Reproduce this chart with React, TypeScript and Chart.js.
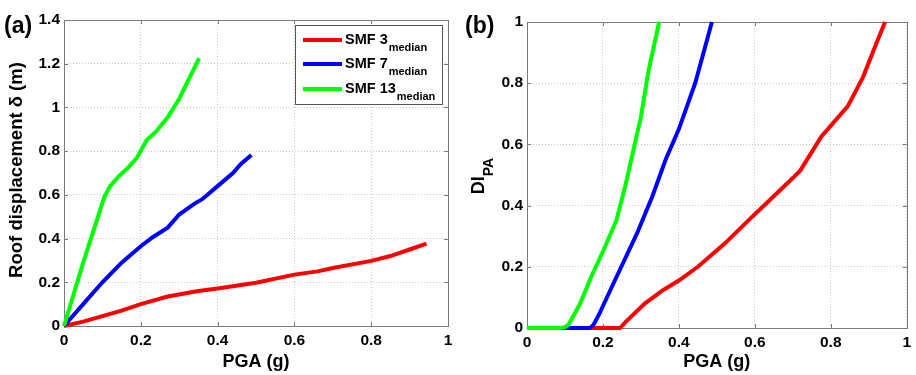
import React, { useEffect, useRef } from 'react';
import { Chart, registerables } from 'chart.js';
Chart.register(...registerables);

const FONT = '"Liberation Sans", Arial, Helvetica, sans-serif';

// ---- tick values ----
const xTicks = [0, 0.2, 0.4, 0.6, 0.8, 1];
const yTicksA = [0, 0.2, 0.4, 0.6, 0.8, 1, 1.2, 1.4];
const yTicksB = [0, 0.2, 0.4, 0.6, 0.8, 1];

// ---- legend ----
const seriesNames = ['SMF 3', 'SMF 7', 'SMF 13'];
const seriesSub = 'median';
const seriesColors = ['#ff0000', '#0000ff', '#00ff00'];

// ---- panel (a): roof displacement vs PGA ----
const pgaA3 = [0, 0.05, 0.1, 0.15, 0.2, 0.27, 0.35, 0.4, 0.5, 0.6, 0.66, 0.7, 0.8, 0.85, 0.9, 0.944];
const dispA3 = [0, 0.02, 0.045, 0.07, 0.1, 0.135, 0.16, 0.172, 0.198, 0.235, 0.25, 0.265, 0.298, 0.32, 0.35, 0.377];
const pgaA7 = [0, 0.05, 0.1, 0.15, 0.2, 0.23, 0.27, 0.3, 0.34, 0.36, 0.4, 0.44, 0.46, 0.488];
const dispA7 = [0, 0.1, 0.2, 0.29, 0.365, 0.405, 0.45, 0.51, 0.56, 0.58, 0.64, 0.7, 0.74, 0.782];
const pgaA13 = [0, 0.05, 0.105, 0.12, 0.14, 0.17, 0.19, 0.215, 0.24, 0.27, 0.3, 0.352];
const dispA13 = [0, 0.29, 0.59, 0.64, 0.68, 0.73, 0.77, 0.85, 0.89, 0.955, 1.04, 1.226];

// ---- panel (b): DI_PA vs PGA ----
const pgaB3 = [0, 0.245, 0.26, 0.31, 0.36, 0.4, 0.45, 0.52, 0.59, 0.645, 0.7, 0.72, 0.775, 0.845, 0.885, 0.92, 0.943];
const diB3 = [0, 0, 0.02, 0.08, 0.125, 0.155, 0.2, 0.275, 0.36, 0.425, 0.49, 0.515, 0.625, 0.725, 0.82, 0.93, 1.0];
const pgaB7 = [0, 0.165, 0.175, 0.19, 0.235, 0.29, 0.33, 0.365, 0.4, 0.443, 0.487];
const diB7 = [0, 0, 0.01, 0.045, 0.165, 0.31, 0.43, 0.55, 0.65, 0.8, 1.0];
const pgaB13 = [0, 0.09, 0.1, 0.11, 0.14, 0.17, 0.2, 0.235, 0.26, 0.28, 0.3, 0.32, 0.348];
const diB13 = [0, 0, 0.003, 0.012, 0.08, 0.17, 0.25, 0.35, 0.47, 0.58, 0.69, 0.84, 1.0];

const FRAME = '#7a7a7a';

function pts(xs: number[], ys: number[]) {
  return xs.map((x, i) => ({ x, y: ys[i] }));
}

type PanelOpts = {
  label: string;
  yTicks: number[];
  yMax: number;
  series: { x: number[]; y: number[] }[];
  yAxisWidth: number;
  xAxisHeight: number;
  padTop: number;
  padRight: number;
  yTitle: (ctx: CanvasRenderingContext2D, chart: any) => void;
  legend: boolean;
  labelX: number;
};

function makeConfig(o: PanelOpts): any {
  const datasets = o.series.map((s, i) => ({
    label: seriesNames[i],
    data: pts(s.x, s.y),
    borderColor: seriesColors[i],
    backgroundColor: seriesColors[i],
    borderWidth: 4,
    pointRadius: 0,
    showLine: true,
    tension: 0,
    clip: false,
    order: 3 - i,
  }));

  const decor = {
    id: 'decor',
    beforeDatasetsDraw(chart: any) {
      const { ctx, chartArea: a, scales } = chart;
      ctx.save();
      ctx.strokeStyle = FRAME;
      ctx.lineWidth = 1;
      ctx.strokeRect(Math.round(a.left) + 0.5, Math.round(a.top) + 0.5, Math.round(a.right - a.left), Math.round(a.bottom - a.top));
      const tl = 4;
      ctx.beginPath();
      xTicks.forEach((v) => {
        const px = Math.round(scales.x.getPixelForValue(v)) + 0.5;
        ctx.moveTo(px, a.bottom);
        ctx.lineTo(px, a.bottom - tl);
        ctx.moveTo(px, a.top);
        ctx.lineTo(px, a.top + tl);
      });
      o.yTicks.forEach((v) => {
        const py = Math.round(scales.y.getPixelForValue(v)) + 0.5;
        ctx.moveTo(a.left, py);
        ctx.lineTo(a.left + tl, py);
        ctx.moveTo(a.right, py);
        ctx.lineTo(a.right - tl, py);
      });
      ctx.stroke();
      ctx.restore();
    },
    afterDatasetsDraw(chart: any) {
      const { ctx, chartArea: a } = chart;
      ctx.save();
      ctx.fillStyle = '#000';
      // x title
      ctx.font = `bold 18px ${FONT}`;
      ctx.textAlign = 'center';
      ctx.textBaseline = 'middle';
      ctx.fillText('PGA (g)', (a.left + a.right) / 2, 362);
      // y title
      o.yTitle(ctx, chart);
      // panel label
      ctx.fillStyle = '#000';
      ctx.font = `bold 23px ${FONT}`;
      ctx.textAlign = 'left';
      ctx.textBaseline = 'middle';
      ctx.fillText(o.label, o.labelX, 27);
      // legend
      if (o.legend) {
        const bx = 295, by = 25, bw = 147, bh = 79;
        ctx.fillStyle = '#fff';
        ctx.fillRect(bx, by, bw, bh);
        ctx.strokeStyle = '#555';
        ctx.lineWidth = 1;
        ctx.strokeRect(bx + 0.5, by + 0.5, bw, bh);
        const rows = [40, 64, 89];
        seriesNames.forEach((name, i) => {
          const yy = rows[i];
          ctx.strokeStyle = seriesColors[i];
          ctx.lineWidth = 4;
          ctx.beginPath();
          ctx.moveTo(303, yy);
          ctx.lineTo(342, yy);
          ctx.stroke();
          ctx.fillStyle = '#000';
          ctx.textBaseline = 'alphabetic';
          ctx.textAlign = 'left';
          ctx.font = `bold 14.5px ${FONT}`;
          ctx.fillText(name, 345, yy + 3.5);
          const w = ctx.measureText(name).width;
          ctx.font = `bold 11px ${FONT}`;
          ctx.fillText(seriesSub, 345 + w + 1, yy + 10.5);
        });
      }
      ctx.restore();
    },
  };

  const tickFont = { family: FONT, size: 15.5, weight: 'bold' as const };

  return {
    type: 'scatter',
    data: { datasets },
    plugins: [decor],
    options: {
      animation: false,
      responsive: false,
      maintainAspectRatio: false,
      events: [],
      layout: { padding: { top: o.padTop, right: o.padRight, left: 0, bottom: 0 } },
      plugins: { legend: { display: false }, tooltip: { enabled: false }, title: { display: false } },
      scales: {
        x: {
          type: 'linear',
          min: 0,
          max: 1,
          afterBuildTicks: (s: any) => { s.ticks = xTicks.map((v) => ({ value: v })); },
          afterFit: (s: any) => { s.height = o.xAxisHeight; },
          ticks: { callback: (v: any) => String(v), font: tickFont, color: '#000', padding: 5, maxRotation: 0, autoSkip: false },
          grid: { color: '#c8c8c8', lineWidth: 1, drawTicks: false },
          border: { display: false, dash: [1, 2] },
        },
        y: {
          type: 'linear',
          min: 0,
          max: o.yMax,
          afterBuildTicks: (s: any) => { s.ticks = o.yTicks.map((v) => ({ value: v })); },
          afterFit: (s: any) => { s.width = o.yAxisWidth; },
          ticks: { callback: (v: any) => String(v), font: tickFont, color: '#000', padding: 4, autoSkip: false },
          grid: { color: '#c8c8c8', lineWidth: 1, drawTicks: false },
          border: { display: false, dash: [1, 2] },
        },
      },
    },
  };
}

const panelA: PanelOpts = {
  label: '(a)',
  yTicks: yTicksA,
  yMax: 1.4,
  series: [
    { x: pgaA3, y: dispA3 },
    { x: pgaA7, y: dispA7 },
    { x: pgaA13, y: dispA13 },
  ],
  yAxisWidth: 64,
  xAxisHeight: 49,
  padTop: 20,
  padRight: 10,
  legend: true,
  labelX: 4,
  yTitle: (ctx) => {
    ctx.save();
    ctx.translate(17, 170);
    ctx.rotate(-Math.PI / 2);
    ctx.font = `bold 18.5px ${FONT}`;
    ctx.textAlign = 'center';
    ctx.textBaseline = 'middle';
    ctx.fillText('Roof displacement δ (m)', 0, 0);
    ctx.restore();
  },
};

const panelB: PanelOpts = {
  label: '(b)',
  yTicks: yTicksB,
  yMax: 1,
  series: [
    { x: pgaB3, y: diB3 },
    { x: pgaB7, y: diB7 },
    { x: pgaB13, y: diB13 },
  ],
  yAxisWidth: 69,
  xAxisHeight: 47,
  padTop: 22,
  padRight: 6,
  legend: false,
  labelX: 7,
  yTitle: (ctx) => {
    ctx.save();
    ctx.translate(19, 176);
    ctx.rotate(-Math.PI / 2);
    ctx.textBaseline = 'alphabetic';
    ctx.textAlign = 'left';
    ctx.font = `bold 18px ${FONT}`;
    const w1 = ctx.measureText('DI').width;
    ctx.font = `bold 14px ${FONT}`;
    const w2 = ctx.measureText('PA').width;
    const start = -(w1 + w2) / 2;
    ctx.font = `bold 18px ${FONT}`;
    ctx.fillText('DI', start, 7);
    ctx.font = `bold 14px ${FONT}`;
    ctx.fillText('PA', start + w1, 16);
    ctx.restore();
  },
};

export default function App() {
  const refA = useRef<HTMLCanvasElement>(null);
  const refB = useRef<HTMLCanvasElement>(null);
  useEffect(() => {
    const ca = new Chart(refA.current as HTMLCanvasElement, makeConfig(panelA));
    const cb = new Chart(refB.current as HTMLCanvasElement, makeConfig(panelB));
    return () => {
      ca.destroy();
      cb.destroy();
    };
  }, []);
  return (
    <div style={{ position: 'absolute', left: 0, top: 0, width: 916, height: 375, background: '#fff' }}>
      <canvas ref={refA} width={458} height={375} style={{ position: 'absolute', left: 0, top: 0, width: 458, height: 375 }} />
      <canvas ref={refB} width={458} height={375} style={{ position: 'absolute', left: 458, top: 0, width: 458, height: 375 }} />
    </div>
  );
}
